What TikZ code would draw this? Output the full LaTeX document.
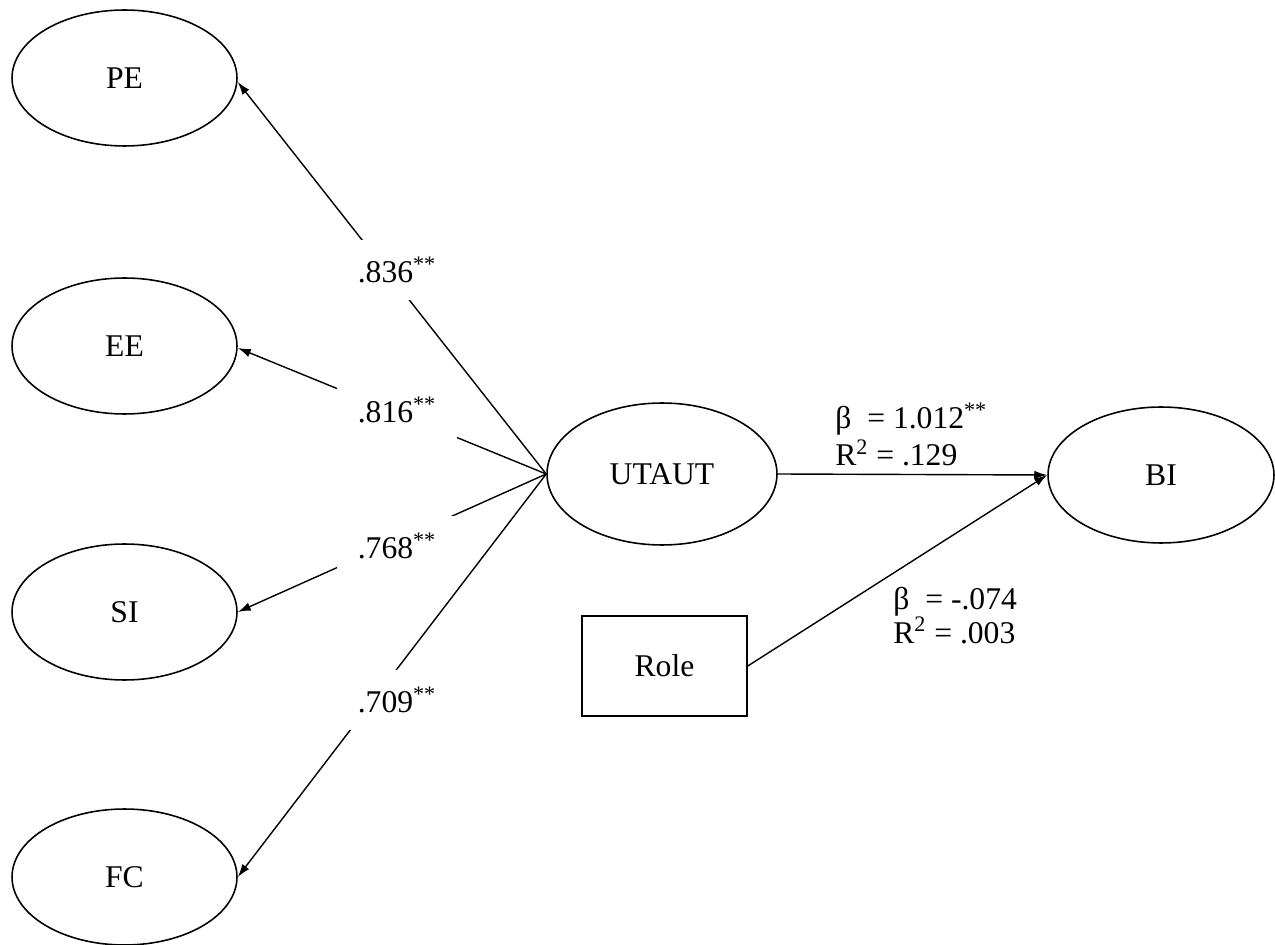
\documentclass[tikz,border=0pt]{standalone}
\usepackage{fontspec}
\setmainfont{Liberation Serif}
\usetikzlibrary{shapes.geometric,arrows.meta}
\tikzset{
  lat/.style={ellipse, draw, line width=0.9pt, minimum width=4.5cm, minimum height=2.72cm, inner sep=0pt},
  obs/.style={rectangle, draw, line width=0.9pt, minimum width=3.3cm, minimum height=2cm, inner sep=0pt},
  load/.style={fill=white, minimum width=2.4cm, minimum height=1.2cm, inner sep=0pt},
  arr/.style={line width=0.8pt, -{Latex[length=0.26cm,width=0.17cm]}},
  stat/.style={anchor=base west, inner sep=0pt}
}
\begin{document}
\begin{tikzpicture}[x=0.02cm, y=-0.02cm, font=\fontsize{18}{21.6}\selectfont]
\useasboundingbox (0,0) rectangle (1275,945);
\node[lat] (PE) at (124.5,78) {PE};
\node[lat] (EE) at (124.5,346) {EE};
\node[lat] (SI) at (124.5,612) {SI};
\node[lat] (FC) at (124.5,877) {FC};
\node[lat, minimum width=4.6cm, minimum height=2.84cm] (UT) at (662,474) {UTAUT};
\node[lat, minimum width=4.52cm] (BI) at (1161,475) {BI};
\node[obs] (RO) at (664.5,666) {Role};

\draw[arr] (UT.west) -- ([yshift=-0.08cm]PE.east);
\draw[arr] (UT.west) -- ([yshift=-0.04cm]EE.east);
\draw[arr] (UT.west) -- (SI.east);
\draw[arr] (UT.west) -- (FC.east);
\draw[arr] (UT.east) -- (BI.west);
\draw[arr] (RO.east) -- (BI.west);

\node[load] (l1) at (397,270) {.836\textsuperscript{**}};
\node[load] (l2) at (397,410) {.816\textsuperscript{**}};
\node[load] (l3) at (397,546) {.768\textsuperscript{**}};
\node[load] (l4) at (397,700) {.709\textsuperscript{**}};

\node[stat] (b1) at (835,429) {β\ \ = 1.012\textsuperscript{**}};
\node[stat] (r1) at (835,466) {R\textsuperscript{2} = .129};
\node[stat] (b2) at (893,610) {β\ \ = -.074};
\node[stat] (r2) at (893,643) {R\textsuperscript{2} = .003};
\end{tikzpicture}
\end{document}
